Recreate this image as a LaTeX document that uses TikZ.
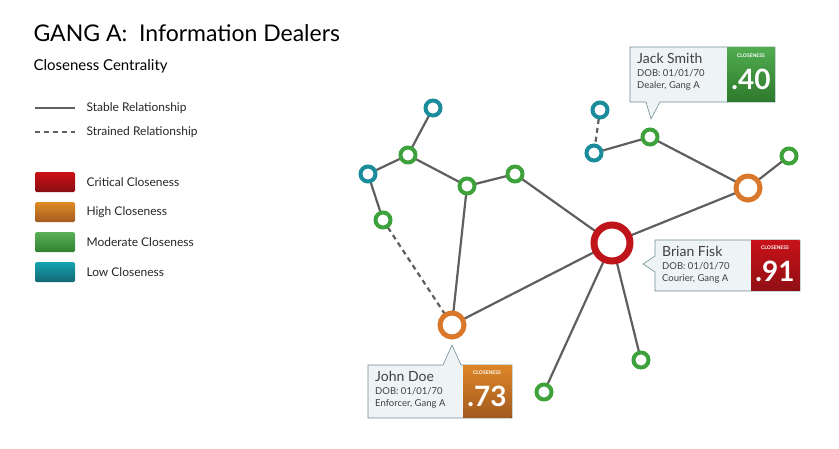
\documentclass[tikz,border=0pt]{standalone}
\usepackage{fontspec}
\setmainfont{Lato}
\usetikzlibrary{positioning}
\definecolor{crit}{HTML}{C0141B}
\definecolor{high}{HTML}{D9782B}
\definecolor{mod}{HTML}{3DA23B}
\definecolor{low}{HTML}{1A8C9C}
\definecolor{edge}{HTML}{5F5F5F}
\definecolor{tipbg}{HTML}{EEF3F5}
\definecolor{tipline}{HTML}{6F8F96}
\tikzset{
  person/.style={circle, draw=#1, fill=white, line width=4pt, minimum size=15pt, inner sep=0pt},
  big/.style={minimum size=24pt, line width=5pt},
  huge/.style={minimum size=36pt, line width=7pt},
  link/.style={draw=edge, line width=2.2pt},
  strained/.style={link, dash pattern=on 5pt off 4pt},
  swatch/.style={rounded corners=1.5pt, minimum width=40pt, minimum height=20pt, inner sep=0pt},
  legtext/.style={anchor=west, font=\fontsize{12}{14}\selectfont, text=black!85},
  tipbox/.style={draw=tipline, fill=tipbg, line width=0.6pt},
  score/.style={text=white, font=\bfseries\fontsize{28}{30}\selectfont},
  scoretag/.style={text=white, font=\bfseries\fontsize{5}{6}\selectfont},
  who/.style={anchor=north west, align=left, inner sep=0pt, text=black!75}
}
\newcommand{\callinfo}[2]{{\fontsize{14}{16}\selectfont #1}\\[1pt]{\fontsize{9.5}{12}\selectfont DOB: 01/01/70}\\{\fontsize{9.5}{12}\selectfont #2, Gang A}}
\begin{document}
\begin{tikzpicture}[x=1pt,y=-1pt]
\useasboundingbox (0,0) rectangle (839,448);
% title and legend
\node[anchor=west, font=\fontsize{23}{26}\selectfont] (title) at (30,33) {GANG A:\ \ Information Dealers};
\node[anchor=west, font=\fontsize{15}{18}\selectfont] (sub) at (30,66) {Closeness Centrality};
\coordinate (s1) at (35,108); \coordinate (s2) at (75,108);
\coordinate (d1) at (35,132); \coordinate (d2) at (75,132);
\draw[link] (s1) -- (s2);
\draw[strained] (d1) -- (d2);
\node[legtext] (ls) at (83,108) {Stable Relationship};
\node[legtext] (ld) at (83,132) {Strained Relationship};
\node[swatch, top color=crit!80!red, bottom color=crit!70!black] (kc) at (55,182) {};
\node[swatch, top color=high!85!yellow, bottom color=high!75!black] (kh) at (55,212) {};
\node[swatch, top color=mod!85!white, bottom color=mod!80!black] (km) at (55,242) {};
\node[swatch, top color=low!80!cyan, bottom color=low!75!black] (kl) at (55,272) {};
\node[legtext] at (83,182) {Critical Closeness};
\node[legtext] at (83,212) {High Closeness};
\node[legtext] at (83,242) {Moderate Closeness};
\node[legtext] at (83,272) {Low Closeness};
% people
\coordinate (a) at (433,108);
\coordinate (b) at (408,155);
\coordinate (c) at (368,174);
\coordinate (d) at (383,220);
\coordinate (e) at (467,186);
\coordinate (f) at (515,174);
\coordinate (g) at (452,325);
\coordinate (h) at (612,243);
\coordinate (i) at (748,188);
\coordinate (j) at (789,156);
\coordinate (k) at (650,137);
\coordinate (l) at (600,110);
\coordinate (m) at (594,153);
\coordinate (n) at (641,360);
\coordinate (o) at (544,392);
\draw[link] (a) -- (b) (b) -- (c) (b) -- (e) (e) -- (f) (c) -- (d)
  (e) -- (g) (g) -- (h) (f) -- (h) (h) -- (i) (i) -- (j) (k) -- (i)
  (k) -- (m) (h) -- (n) (h) -- (o);
\draw[strained] (d) -- (g);
\draw[strained] (l) -- (m);
% rings over the links
\foreach \p/\c in {a/low,b/mod,c/low,d/mod,e/mod,f/mod,j/mod,k/mod,l/low,m/low,n/mod,o/mod}
  \node[person=\c] (\p n) at (\p) {};
\node[person=high, big] (gn) at (g) {};
\node[person=high, big] (in) at (i) {};
\node[person=crit, huge] (hn) at (h) {};
% Jack Smith
\draw[tipbox] (630,47) -- (775,47) -- (775,102) -- (660,102) -- (651,119) -- (646,102) -- (630,102) -- cycle;
\fill[top color=mod!90!white, bottom color=mod!75!black] (727,47.5) rectangle (774.5,101.5);
\node[who] (jack) at (637,53) {\callinfo{Jack Smith}{Dealer}};
\node[scoretag] (jt) at (751,56) {CLOSENESS};
\node[score] (js) at (751,79) {.40};
% Brian Fisk
\draw[tipbox] (655,240) -- (800,240) -- (800,291) -- (655,291) -- (655,272) -- (643,264) -- (655,256) -- cycle;
\fill[top color=crit!90!red, bottom color=crit!75!black] (751,240.5) rectangle (799.5,290.5);
\node[who] (brian) at (662,246) {\callinfo{Brian Fisk}{Courier}};
\node[scoretag] (bt) at (775,248) {CLOSENESS};
\node[score] (bs) at (775,271) {.91};
% John Doe
\draw[tipbox] (368,365) -- (443,365) -- (452,345) -- (461,365) -- (512,365) -- (512,418) -- (368,418) -- cycle;
\fill[top color=high!90!yellow, bottom color=high!75!black] (463,365.5) rectangle (511.5,417.5);
\node[who] (john) at (375,371) {\callinfo{John Doe}{Enforcer}};
\node[scoretag] (dt) at (487,373) {CLOSENESS};
\node[score] (ds) at (487,396) {.73};
\end{tikzpicture}
\end{document}
